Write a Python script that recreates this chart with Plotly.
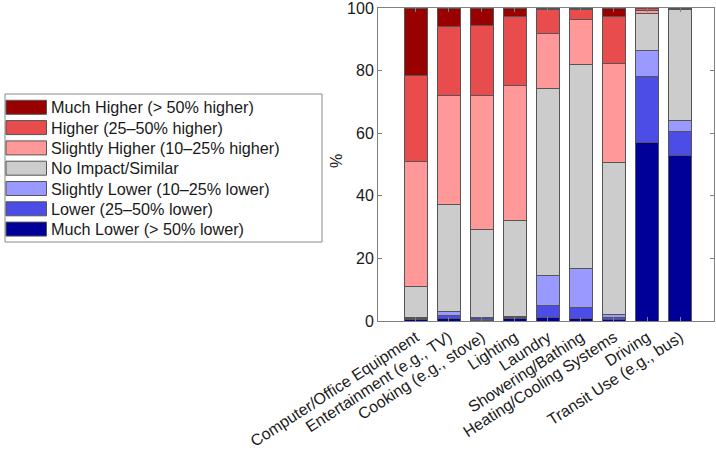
import plotly.graph_objects as go

categories = ["Computer/Office Equipment", "Entertainment (e.g., TV)", "Cooking (e.g., stove)",
              "Lighting", "Laundry", "Showering/Bathing", "Heating/Cooling Systems",
              "Driving", "Transit Use (e.g., bus)"]

series_names = ["Much Lower (> 50% lower)", "Lower (25–50% lower)", "Slightly Lower (10–25% lower)",
                "No Impact/Similar", "Slightly Higher (10–25% higher)", "Higher (25–50% higher)",
                "Much Higher (> 50% higher)"]

much_lower      = [0.4, 0.8, 0.3, 0.8, 1.0, 0.8, 0.5, 56.9, 53.0]
lower           = [0.5, 1.0, 0.4, 0.3, 4.0, 3.4, 0.7, 21.2, 7.5]
slightly_lower  = [0.3, 1.1, 0.3, 0.4, 9.6, 12.6, 0.9, 8.2, 3.6]
no_impact       = [9.9, 34.2, 28.1, 30.5, 59.6, 65.1, 48.5, 11.9, 35.5]
slightly_higher = [40.0, 34.9, 42.9, 43.3, 17.6, 14.3, 31.8, 1.0, 0.1]
higher          = [27.4, 22.1, 22.4, 21.9, 7.8, 3.3, 14.8, 0.6, 0.1]
much_higher     = [21.5, 5.9, 5.6, 2.8, 0.4, 0.5, 2.8, 0.2, 0.2]

y_ticks = [0, 20, 40, 60, 80, 100]

series_values = [much_lower, lower, slightly_lower, no_impact, slightly_higher, higher, much_higher]
colors = ["#000099", "#4C4CE6", "#9999FF", "#CCCCCC", "#FF9999", "#E84C4C", "#990000"]

W, H = 716, 453
ML, MR, MT, MB = 378, 2, 8, 132
PW, PH = W - ML - MR, H - MT - MB

def px_x(px):
    return (px - ML) / PW

def px_y(py):
    return (H - MB - py) / PH

fig = go.Figure()
for name, vals, col in zip(series_names, series_values, colors):
    fig.add_trace(go.Bar(x=categories, y=vals, name=name, marker_color=col,
                         marker_line_color="#555555", marker_line_width=1, width=0.7,
                         showlegend=False))

font_family = "Liberation Sans, Arial, sans-serif"
txt_col = "#1a1a1a"
LEG_FS = 16.2
TICK_FS = 16

# custom legend (top to bottom: Much Higher ... Much Lower)
shapes = [dict(type="rect", xref="paper", yref="paper",
               x0=px_x(5), x1=px_x(322), y0=px_y(242), y1=px_y(94),
               line=dict(color="#888888", width=1), fillcolor="white", layer="above")]
annotations = []
for i, idx in enumerate(range(len(series_names) - 1, -1, -1)):
    cy = 107.3 + 20.3 * i
    shapes.append(dict(type="rect", xref="paper", yref="paper",
                       x0=px_x(6), x1=px_x(46.5), y0=px_y(cy + 7), y1=px_y(cy - 7),
                       line=dict(color="#555555", width=1), fillcolor=colors[idx], layer="above"))
    annotations.append(dict(xref="paper", yref="paper", x=px_x(49), y=px_y(cy),
                            text=series_names[idx], showarrow=False, xanchor="left",
                            yanchor="middle", font=dict(size=LEG_FS, color=txt_col, family=font_family)))

annotations.append(dict(xref="paper", yref="paper", x=px_x(336), y=px_y(161), text="%",
                        textangle=-90, showarrow=False, xanchor="center", yanchor="middle",
                        font=dict(size=TICK_FS, color=txt_col, family=font_family)))

fig.update_layout(
    width=W, height=H, barmode="stack",
    margin=dict(l=ML, r=MR, t=MT, b=MB),
    paper_bgcolor="white", plot_bgcolor="white",
    font=dict(family=font_family, size=TICK_FS, color=txt_col),
    shapes=shapes, annotations=annotations,
    xaxis=dict(range=[-1.15, 9.03], tickangle=-33, showline=True, linecolor="#808080",
               linewidth=1, mirror="ticks", ticks="inside", ticklen=4, tickcolor="#808080",
               showgrid=False, zeroline=False, tickfont=dict(size=TICK_FS),
               automargin=False, ticklabeloverflow="allow"),
    yaxis=dict(range=[0, 100], tickvals=y_ticks, showline=True, linecolor="#808080",
               linewidth=1, mirror="ticks", ticks="inside", ticklen=4, tickcolor="#808080",
               showgrid=False, zeroline=False, tickfont=dict(size=TICK_FS),
               automargin=False, ticklabeloverflow="allow"),
)

fig.write_html("out.html", config={"displayModeBar": False},
               post_script="document.body.style.margin='0';document.body.style.overflow='hidden';")
